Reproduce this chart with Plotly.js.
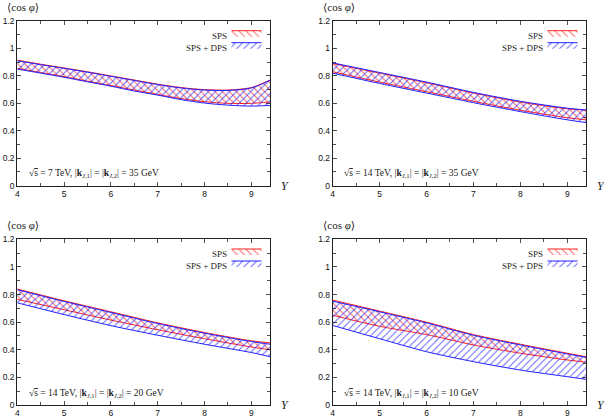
<!DOCTYPE html>
<html>
<head>
<meta charset="utf-8">
<script src="https://cdn.plot.ly/plotly-3.0.1.min.js"></script>
<style>html,body{margin:0;padding:0;background:#fff;}#chart{width:604px;height:417px;}</style>
</head>
<body>
<div id="chart"></div>
<script>
// ---- data ----
const Y_fine = [4, 4.5, 5, 5.5, 6, 6.5, 7, 7.5, 8, 8.5, 9, 9.4];
const Y_coarse = [4, 5, 6, 7, 8, 9, 9.4];

// panel 1: sqrt(s)=7 TeV, k=35 GeV
const p1_sps_up  = [0.915, 0.885, 0.858, 0.83, 0.80, 0.77, 0.74, 0.715, 0.70, 0.697, 0.715, 0.77];
const p1_sps_lo  = [0.855, 0.825, 0.795, 0.762, 0.73, 0.697, 0.665, 0.635, 0.612, 0.60, 0.60, 0.61];
const p1_dps_up  = [0.91, 0.882, 0.855, 0.827, 0.797, 0.767, 0.737, 0.712, 0.697, 0.694, 0.712, 0.768];
const p1_dps_lo  = [0.85, 0.82, 0.79, 0.757, 0.725, 0.69, 0.66, 0.627, 0.602, 0.587, 0.58, 0.585];

// panel 2: 14 TeV, 35 GeV
const p2_sps_up  = [0.89, 0.82, 0.75, 0.675, 0.61, 0.56, 0.55];
const p2_sps_lo  = [0.83, 0.755, 0.685, 0.615, 0.55, 0.495, 0.48];
const p2_dps_up  = [0.895, 0.825, 0.755, 0.68, 0.615, 0.565, 0.552];
const p2_dps_lo  = [0.82, 0.745, 0.675, 0.605, 0.54, 0.48, 0.46];

// panel 3: 14 TeV, 20 GeV
const p3_sps_up  = [0.84, 0.755, 0.675, 0.595, 0.525, 0.465, 0.45];
const p3_sps_lo  = [0.765, 0.69, 0.615, 0.545, 0.48, 0.42, 0.40];
const p3_dps_up  = [0.835, 0.75, 0.67, 0.59, 0.52, 0.46, 0.44];
const p3_dps_lo  = [0.74, 0.655, 0.575, 0.505, 0.44, 0.38, 0.35];

// panel 4: 14 TeV, 10 GeV
const p4_sps_up  = [0.76, 0.68, 0.60, 0.51, 0.44, 0.375, 0.35];
const p4_sps_lo  = [0.65, 0.57, 0.51, 0.435, 0.375, 0.326, 0.31];
const p4_dps_up  = [0.752, 0.675, 0.595, 0.505, 0.435, 0.37, 0.345];
const p4_dps_lo  = [0.576, 0.48, 0.386, 0.314, 0.253, 0.205, 0.186];

const seriesNames = ['SPS', 'SPS + DPS'];
const panelTexts = [
  '√<span style="text-decoration:overline">s</span> = 7 TeV, |<b>k</b><sub><i>J</i>,1</sub>| = |<b>k</b><sub><i>J</i>,2</sub>| = 35 GeV',
  '√<span style="text-decoration:overline">s</span> = 14 TeV, |<b>k</b><sub><i>J</i>,1</sub>| = |<b>k</b><sub><i>J</i>,2</sub>| = 35 GeV',
  '√<span style="text-decoration:overline">s</span> = 14 TeV, |<b>k</b><sub><i>J</i>,1</sub>| = |<b>k</b><sub><i>J</i>,2</sub>| = 20 GeV',
  '√<span style="text-decoration:overline">s</span> = 14 TeV, |<b>k</b><sub><i>J</i>,1</sub>| = |<b>k</b><sub><i>J</i>,2</sub>| = 10 GeV'
];
const yTitle = '⟨cos <i>φ</i>⟩';
const xTitle = '<i>Y</i>';

// ---- layout helpers ----
const W = 604, H = 417;
const fx = p => p / W;
const fy = p => 1 - p / H;
const RED = '#ff2020', BLUE = '#2020ff';
const SERIF = 'Liberation Serif, DejaVu Serif, serif';
const SANS = 'Liberation Sans, Arial, sans-serif';

const panels = [
  {x: Y_fine,   s: [p1_sps_lo, p1_sps_up], d: [p1_dps_lo, p1_dps_up], px: [17.3, 270], py: [21, 185.7]},
  {x: Y_coarse, s: [p2_sps_lo, p2_sps_up], d: [p2_dps_lo, p2_dps_up], px: [332.7, 586], py: [21, 185.7]},
  {x: Y_coarse, s: [p3_sps_lo, p3_sps_up], d: [p3_dps_lo, p3_dps_up], px: [17.3, 270], py: [239.3, 405]},
  {x: Y_coarse, s: [p4_sps_lo, p4_sps_up], d: [p4_dps_lo, p4_dps_up], px: [332.7, 586], py: [239.3, 405]}
];

const traces = [];
const layout = {
  width: W, height: H,
  margin: {l: 0, r: 0, t: 0, b: 0},
  paper_bgcolor: '#fff', plot_bgcolor: '#fff',
  showlegend: true,
  annotations: []
};

panels.forEach((p, i) => {
  const n = i === 0 ? '' : String(i + 1);
  const xa = 'x' + n, ya = 'y' + n;
  const bands = [[p.s, RED, '\\'], [p.d, BLUE, '/']];
  bands.forEach((b, k) => {
    const [lo, up] = b[0];
    const col = b[1];
    const legName = 'legend' + (i * 2 + k === 0 ? '' : String(i * 2 + k + 1));
    traces.push({
      x: p.x, y: lo, xaxis: xa, yaxis: ya, type: 'scatter', mode: 'lines',
      line: {color: col, width: 1, shape: 'spline', smoothing: 0.8},
      opacity: 0.85,
      showlegend: false, hoverinfo: 'skip'
    });
    traces.push({
      x: p.x, y: up, xaxis: xa, yaxis: ya, type: 'scatter', mode: 'lines',
      line: {color: col, width: 1, shape: 'spline', smoothing: 0.8},
      fill: 'tonexty', fillcolor: 'rgba(0,0,0,0)',
      fillpattern: {shape: b[2], fgcolor: col, bgcolor: 'rgba(0,0,0,0)', size: 5, solidity: 0.18, fgopacity: 0.75},
      name: ' ', legend: legName, showlegend: true, hoverinfo: 'skip'
    });
    const rowY = p.py[0] + (k === 0 ? 14.7 : 26.7);
    const swL = p.px[1] - 38.5;
    layout[legName] = {
      x: fx(swL - 5), y: fy(rowY - 3), xanchor: 'left', yanchor: 'middle',
      bgcolor: 'rgba(0,0,0,0)', borderwidth: 0, font: {size: 6, family: SERIF},
      itemwidth: 30, tracegroupgap: 0
    };
    layout.annotations.push({
      xref: 'paper', yref: 'paper', x: fx(swL - 3), y: fy(rowY), xanchor: 'right', yanchor: 'middle',
      text: seriesNames[k], showarrow: false, font: {family: SERIF, size: 9, color: '#222'}
    });
  });

  const axisCommon = {
    showline: true, linecolor: '#222', linewidth: 1, mirror: 'allticks',
    ticks: 'inside', ticklen: 4, tickwidth: 0.8, tickcolor: '#222',
    showgrid: false, zeroline: false, fixedrange: true,
    tickfont: {family: SANS, size: 8.5, color: '#111'}
  };
  layout['xaxis' + n] = Object.assign({}, axisCommon, {
    domain: [fx(p.px[0]), fx(p.px[1])], anchor: ya, range: [4, 9.4],
    tickmode: 'linear', tick0: 4, dtick: 1, ticklabelstandoff: 0,
    minor: {dtick: 0.5, ticks: 'inside', ticklen: 3, tickcolor: '#222', tickwidth: 0.8}
  });
  layout['yaxis' + n] = Object.assign({}, axisCommon, {
    domain: [fy(p.py[1]), fy(p.py[0])], anchor: xa, range: [0, 1.2],
    tickmode: 'linear', tick0: 0, dtick: 0.2,
    minor: {dtick: 0.1, ticks: 'inside', ticklen: 3, tickcolor: '#222', tickwidth: 0.8}
  });

  layout.annotations.push({
    xref: 'paper', yref: 'paper', x: fx(p.px[0] + 9.5), y: fy(p.py[1] - 12), xanchor: 'left', yanchor: 'middle',
    text: panelTexts[i], showarrow: false, font: {family: SERIF, size: 9.5, color: '#222'}
  });
  layout.annotations.push({
    xref: 'paper', yref: 'paper', x: fx(p.px[0] - 12), y: fy(p.py[0] - 14), xanchor: 'left', yanchor: 'middle',
    text: yTitle, showarrow: false, font: {family: SERIF, size: 11, color: '#222'}
  });
  layout.annotations.push({
    xref: 'paper', yref: 'paper', x: fx(p.px[1] + 9), y: fy(p.py[1]), xanchor: 'left', yanchor: 'middle',
    text: xTitle, showarrow: false, font: {family: SERIF, size: 12, color: '#222'}
  });
});

Plotly.newPlot('chart', traces, layout, {displayModeBar: false, staticPlot: true});
</script>
</body>
</html>
